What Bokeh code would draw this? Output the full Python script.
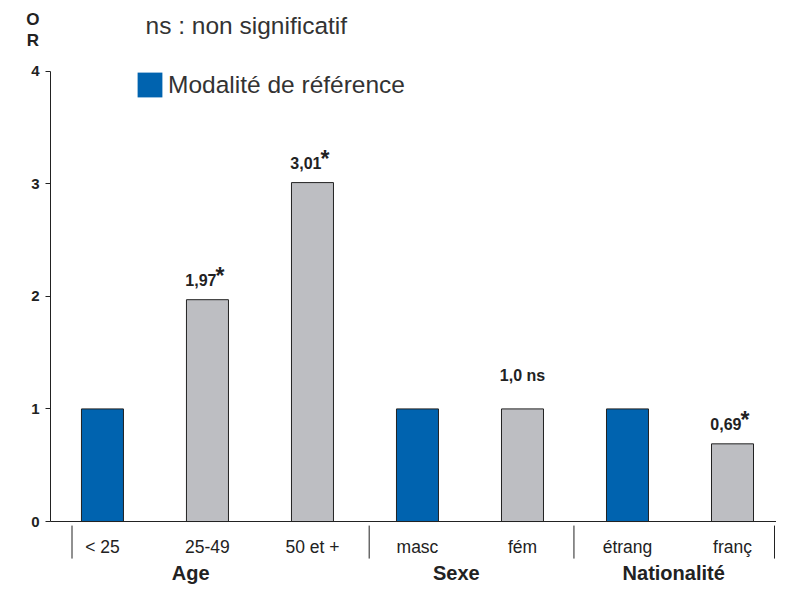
from bokeh.plotting import figure
from bokeh.models import (ColumnDataSource, Range1d, FixedTicker, Label,
                          Legend, LegendItem, LinearAxis)
from bokeh.core.properties import value
from bokeh.embed import file_html
from bokeh.resources import INLINE

# ---- data ----
categories = ["< 25", "25-49", "50 et +", "masc", "fém", "étrang", "franç"]
odds_ratios = [1.0, 1.97, 3.01, 1.0, 1.0, 1.0, 0.69]
is_reference = [True, False, False, True, False, True, False]
value_labels = ["", "1,97", "3,01", "", "1,0", "", "0,69"]
significance = ["", "*", "*", "", "ns", "", "*"]
groups = ["Age", "Sexe", "Nationalité"]
group_centers = [0.84, 3.37, 5.44]
group_separators = [-0.29, 2.54, 4.49, 6.40]
y_ticks = [0, 1, 2, 3, 4]

BLUE = "#0063AF"
GREY = "#BDBEC2"
INK = "#222222"
FONT = value("Liberation Sans")

X0, X1 = -0.971, 6.419
AXIS_X = -0.495

idx = list(range(len(categories)))
colors = [BLUE if r else GREY for r in is_reference]

p = figure(width=776, height=586, output_backend="svg", toolbar_location=None,
           x_range=Range1d(X0, X1), y_range=Range1d(-0.577, 4.627),
           x_axis_location=None, y_axis_location=None,
           min_border_left=0, min_border_right=0,
           min_border_top=0, min_border_bottom=0)
p.outline_line_color = None
p.grid.visible = False

# y axis, drawn at a fixed location inside the frame
yax = LinearAxis(ticker=FixedTicker(ticks=y_ticks), bounds=(0, 4),
                 fixed_location=AXIS_X)
yax.major_tick_out = 5
yax.major_tick_in = 0
yax.minor_tick_line_color = None
yax.axis_line_color = INK
yax.major_tick_line_color = INK
yax.major_label_text_font = "Liberation Sans"
yax.major_label_text_font_style = "bold"
yax.major_label_text_font_size = "15px"
yax.major_label_text_color = INK
yax.major_label_standoff = 6
p.add_layout(yax, "left")

# x axis at y = 0 carrying category labels
xax = LinearAxis(ticker=FixedTicker(ticks=idx), bounds=(AXIS_X, X1),
                 fixed_location=0)
xax.major_label_overrides = {i: c for i, c in zip(idx, categories)}
xax.major_tick_line_color = None
xax.minor_tick_line_color = None
xax.axis_line_color = INK
xax.major_label_text_font = "Liberation Sans"
xax.major_label_text_font_size = "17.5px"
xax.major_label_text_color = INK
xax.major_label_standoff = 9
p.add_layout(xax, "below")

# legend swatch renderer (same footprint as reference bars, underneath)
ref_x = [i for i, r in zip(idx, is_reference) if r]
ref_top = [v for v, r in zip(odds_ratios, is_reference) if r]
leg_r = p.vbar(x=ref_x, top=ref_top, width=0.4, fill_color=BLUE, line_color=None)

# bars
src = ColumnDataSource(dict(x=idx, top=odds_ratios, color=colors))
p.vbar(x="x", top="top", width=0.4, source=src, fill_color="color",
       line_color=INK, line_width=1)

# separators
p.segment(x0=group_separators, y0=[-0.036] * len(group_separators),
          x1=group_separators, y1=[-0.329] * len(group_separators),
          line_color=INK, line_width=1)

# group labels
p.text(x=group_centers, y=[-0.455] * len(groups), text=groups, text_font=FONT,
       text_font_size="20px", text_font_style="bold", text_color=INK,
       text_align="center", text_baseline="middle")

# value labels
star_x = [i for i, s in zip(idx, significance) if s == "*"]
star_y = [v for v, s in zip(odds_ratios, significance) if s == "*"]
star_t = [t for t, s in zip(value_labels, significance) if s == "*"]
p.text(x=star_x, y=star_y, text=star_t, text_font=FONT, text_font_size="16px",
       text_font_style="bold", text_color=INK, text_align="right",
       text_baseline="alphabetic", x_offset=9, y_offset=-20)
p.text(x=star_x, y=star_y, text=["*"] * len(star_x), text_font=FONT,
       text_font_size="23px", text_font_style="bold", text_color=INK,
       text_align="left", text_baseline="top", x_offset=8, y_offset=-37)
ns_x = [i for i, s in zip(idx, significance) if s == "ns"]
ns_y = [v for v, s in zip(odds_ratios, significance) if s == "ns"]
ns_t = [t + " ns" for t, s in zip(value_labels, significance) if s == "ns"]
p.text(x=ns_x, y=ns_y, text=ns_t, text_font=FONT, text_font_size="16px",
       text_font_style="bold", text_color=INK, text_align="center",
       text_baseline="alphabetic", y_offset=-33)

# O / R axis title
for t, yy in (("O", 4.458), ("R", 4.276)):
    p.add_layout(Label(x=-0.662, y=yy, text=t, text_font="Liberation Sans",
                       text_font_size="17px", text_font_style="bold",
                       text_color=INK, text_align="center",
                       text_baseline="middle"))

# note
p.add_layout(Label(x=0.41, y=4.405, text="ns : non significatif",
                   text_font="Liberation Sans", text_font_size="24.5px",
                   text_color="#333333", text_align="left",
                   text_baseline="middle"))

# legend
legend = Legend(items=[LegendItem(label="Modalité de référence", renderers=[leg_r])],
                location=(134, 486), glyph_width=31, glyph_height=31,
                label_standoff=3, padding=0, margin=0, border_line_color=None,
                background_fill_alpha=0, label_text_font="Liberation Sans",
                label_text_font_size="24.5px", label_text_color="#333333")
p.add_layout(legend)

open("out.html", "w").write(file_html(p, INLINE))
